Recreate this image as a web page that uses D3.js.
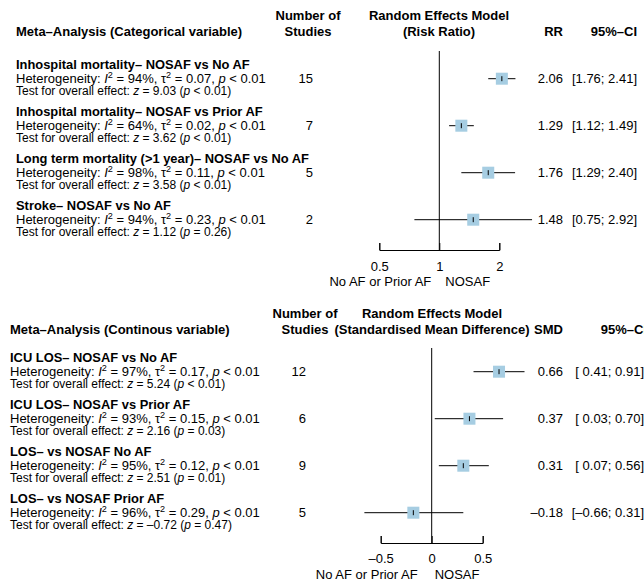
<!DOCTYPE html>
<html>
<head>
<meta charset="utf-8">
<script src="https://cdn.jsdelivr.net/npm/d3@7"></script>
<style>
  body { margin: 0; background: #fff; }
  svg { display: block; font-family: "Liberation Sans", Arial, sans-serif; }
  text { white-space: pre; }
</style>
</head>
<body>
<div id="vis"></div>
<script>
// ---- categorical outcomes (risk ratio) ----
const catLabels = [
  "Inhospital mortality\u2013 NOSAF vs No AF",
  "Inhospital mortality\u2013 NOSAF vs Prior AF",
  "Long term mortality (>1 year)\u2013 NOSAF vs No AF",
  "Stroke\u2013 NOSAF vs No AF"
];
const catStudies = [15, 7, 5, 2];
const catRR = [2.06, 1.29, 1.76, 1.48];
const catLower = [1.76, 1.12, 1.29, 0.75];
const catUpper = [2.41, 1.49, 2.40, 2.92];
const catI2 = [94, 64, 98, 94];
const catTau2 = ["0.07", "0.02", "0.11", "0.23"];
const catHetP = ["< 0.01", "< 0.01", "< 0.01", "< 0.01"];
const catZ = ["9.03", "3.62", "3.58", "1.12"];
const catZP = ["< 0.01", "< 0.01", "< 0.01", "= 0.26"];
const catTicks = [0.5, 1, 2];

// ---- continuous outcomes (SMD) ----
const conLabels = [
  "ICU LOS\u2013 NOSAF vs No AF",
  "ICU LOS\u2013 NOSAF vs Prior AF",
  "LOS\u2013 vs NOSAF No AF",
  "LOS\u2013 vs NOSAF Prior AF"
];
const conStudies = [12, 6, 9, 5];
const conSMD = [0.66, 0.37, 0.31, -0.18];
const conLower = [0.41, 0.03, 0.07, -0.66];
const conUpper = [0.91, 0.70, 0.56, 0.31];
const conI2 = [97, 93, 95, 96];
const conTau2 = ["0.17", "0.15", "0.12", "0.29"];
const conHetP = ["< 0.01", "< 0.01", "< 0.01", "< 0.01"];
const conZ = ["5.24", "2.16", "2.51", "\u20130.72"];
const conZP = ["< 0.01", "= 0.03", "= 0.01", "= 0.47"];
const conTicks = [-0.5, 0, 0.5];

const width = 644, height = 584;
const svg = d3.select("#vis").append("svg")
  .attr("width", width)
  .attr("height", height)
  .attr("viewBox", [0, 0, width, height]);

const squareFill = "#a6cde2";
const fmt2 = d3.format(".2f");
const dash = s => s.replace(/[-\u2212]/g, "\u2013");

// write a line of text made of plain / italic / superscript pieces
function richText(g, x, y, size, parts) {
  const t = g.append("text").attr("x", x).attr("y", y).style("font-size", size + "px");
  let back = 0; // shift owed after a superscript
  parts.forEach(([str, kind]) => {
    const sp = t.append("tspan").text(str);
    if (kind === "sup") {
      sp.attr("dy", -5).style("font-size", (size * 0.7) + "px");
      back = 5;
    } else {
      if (back) { sp.attr("dy", back); back = 0; }
      if (kind === "i") sp.style("font-style", "italic");
    }
  });
  return t;
}

function drawPanel(o) {
  const g = svg.append("g");
  const n = o.labels.length;
  const rowY = i => o.y0 + i * o.step;

  // headers
  const hdr = g.append("g").style("font-weight", "bold").style("font-size", "13px");
  hdr.append("text").attr("x", o.textX).attr("y", o.hy + 16).text(o.title);
  hdr.append("text").attr("x", o.studiesMid).attr("y", o.hy).attr("text-anchor", "middle").text("Number of");
  hdr.append("text").attr("x", o.studiesMid).attr("y", o.hy + 16).attr("text-anchor", "middle").text("Studies");
  hdr.append("text").attr("x", o.modelMid).attr("y", o.hy).attr("text-anchor", "middle").text("Random Effects Model");
  hdr.append("text").attr("x", o.modelMid).attr("y", o.hy + 16).attr("text-anchor", "middle").text(o.modelSub);
  hdr.append("text").attr("x", o.estX).attr("y", o.hy + 16).attr("text-anchor", "end").text(o.estName);
  hdr.append("text").attr("x", o.ciHeadX).attr("y", o.hy + 16).attr("text-anchor", "end").text("95%\u2013CI");

  // reference line
  g.append("line")
    .attr("x1", o.x(o.ref)).attr("x2", o.x(o.ref))
    .attr("y1", o.lineTop).attr("y2", o.axisY)
    .attr("stroke", "#000").attr("stroke-width", 1);

  // axis (ticks pointing up)
  const ax = g.append("g")
    .attr("transform", `translate(0,${o.axisY})`)
    .call(d3.axisBottom(o.x).tickValues(o.ticks).tickFormat(o.tickFmt)
      .tickSizeInner(-7).tickSizeOuter(-7).tickPadding(o.tickPad));
  ax.attr("font-family", null).attr("font-size", null);
  ax.selectAll("text").style("font-size", "13px").attr("fill", "#000");
  ax.selectAll("line, path").attr("stroke", "#000");

  g.append("text").attr("x", o.x(o.ref) - o.labGapL).attr("y", o.axisY + o.subLabDy)
    .attr("text-anchor", "end").style("font-size", "13px").text("No AF or Prior AF");
  g.append("text").attr("x", o.x(o.ref) + o.labGapR).attr("y", o.axisY + o.subLabDy)
    .style("font-size", "13px").text("NOSAF");

  const anyNeg = o.lower.some(v => v < 0);
  const pad = v => (anyNeg && v >= 0 ? " " : "") + dash(fmt2(v));

  for (let i = 0; i < n; i++) {
    const cy = rowY(i);
    // left text block
    g.append("text").attr("x", o.textX).attr("y", cy - 10)
      .style("font-weight", "bold").style("font-size", "12.9px").text(o.labels[i]);
    richText(g, o.textX, cy + 4.5, 13, [
      ["Heterogeneity: "], ["I", "i"], ["2", "sup"], [` = ${o.i2[i]}%, \u03c4`], ["2", "sup"],
      [` = ${o.tau2[i]}, `], ["p", "i"], [` ${o.hetP[i]}`]
    ]);
    richText(g, o.textX, cy + 16.5, 12, [
      ["Test for overall effect: "], ["z", "i"], [` = ${o.z[i]} (`], ["p", "i"], [` ${o.zp[i]})`]
    ]);
    g.append("text").attr("x", o.studiesX).attr("y", cy + 4.5)
      .attr("text-anchor", "end").style("font-size", "13px").text(o.studies[i]);

    // CI, square, estimate tick
    g.append("line")
      .attr("x1", o.x(o.lower[i])).attr("x2", o.x(o.upper[i]))
      .attr("y1", cy).attr("y2", cy).attr("stroke", "#000");
    g.append("rect")
      .attr("x", o.x(o.est[i]) - 6).attr("y", cy - 6)
      .attr("width", 12).attr("height", 12).attr("fill", squareFill);
    g.append("line")
      .attr("x1", o.x(o.est[i])).attr("x2", o.x(o.est[i]))
      .attr("y1", cy - 2.5).attr("y2", cy + 2.5).attr("stroke", "#000");

    // right columns
    g.append("text").attr("x", o.estX).attr("y", cy + 4.5)
      .attr("text-anchor", "end").style("font-size", "13px").text(dash(fmt2(o.est[i])));
    g.append("text").attr("x", o.ciX).attr("y", cy + 4.5)
      .attr("text-anchor", "end").style("font-size", "13px")
      .text(`[${pad(o.lower[i])}; ${fmt2(o.upper[i])}]`);
  }
}

drawPanel({
  title: "Meta\u2013Analysis (Categorical variable)",
  modelSub: "(Risk Ratio)", estName: "RR",
  labels: catLabels, studies: catStudies, est: catRR, lower: catLower, upper: catUpper,
  i2: catI2, tau2: catTau2, hetP: catHetP, z: catZ, zp: catZP,
  ticks: catTicks, tickFmt: d => String(d), ref: 1,
  x: d3.scaleLog().domain([0.5, 2]).range([379.3, 499.3]),
  hy: 20, textX: 16, studiesMid: 308, studiesX: 313, modelMid: 439,
  estX: 563, ciX: 637, ciHeadX: 637,
  y0: 78.7, step: 47, lineTop: 51, axisY: 250, tickPad: 12, subLabDy: 36,
  labGapL: 8, labGapR: 6
});

drawPanel({
  title: "Meta\u2013Analysis (Continous variable)",
  modelSub: "(Standardised Mean Difference)", estName: "SMD",
  labels: conLabels, studies: conStudies, est: conSMD, lower: conLower, upper: conUpper,
  i2: conI2, tau2: conTau2, hetP: conHetP, z: conZ, zp: conZP,
  ticks: conTicks, tickFmt: d => d === 0 ? "0" : dash(String(d)), ref: 0,
  x: d3.scaleLinear().domain([-0.5, 0.5]).range([380.7, 482.7]),
  hy: 318, textX: 10, studiesMid: 305, studiesX: 306, modelMid: 432,
  estX: 563, ciX: 644, ciHeadX: 647,
  y0: 371.7, step: 47, lineTop: 348, axisY: 543, tickPad: 11, subLabDy: 36,
  labGapL: 14, labGapR: 3
});
</script>
</body>
</html>
